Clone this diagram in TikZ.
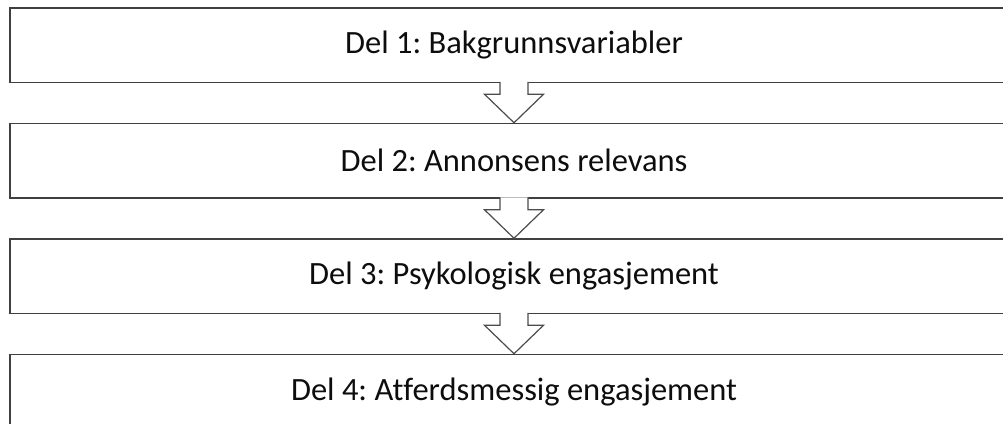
\documentclass[tikz,border=0pt]{standalone}
\usepackage{fontspec}
\setmainfont{Carlito}[Ligatures=CommonOff]
\usetikzlibrary{positioning,calc}

\tikzset{
  delbox/.style={draw=black!75, line width=1.5pt, minimum width=1008pt, minimum height=74.5pt,
    inner sep=0pt, font=\fontsize{32.5}{36}\selectfont\frenchspacing, text=black!95},
  flowarrow/.style={draw=black!70, line width=1.2pt, fill=white, line join=miter}
}

\begin{document}
\begin{tikzpicture}[x=1pt,y=-1pt]
  \useasboundingbox (0,0) rectangle (1003,423);

  \node[delbox] (del1) at (514,45.25) {Del 1: Bakgrunnsvariabler};
  \node[delbox, below=39.5pt of del1] (del2) {Del 2: Annonsens relevans};
  \node[delbox, below=39.5pt of del2] (del3) {Del 3: Psykologisk engasjement};
  \node[delbox, below=39.5pt of del3] (del4) {Del 4: Atferdsmessig engasjement};

  % hollow arrows between the parts
  \foreach \a/\b in {del1/del2, del2/del3, del3/del4}
    \draw[flowarrow] ($(\a.south)+(-14,-1.5)$) -- ++(0,12.5) -- ++(-15.5,0) -- (\b.north)
      -- ($(\a.south)+(29.5,11)$) -- ++(-15.5,0) -- ++(0,-12.5);
\end{tikzpicture}
\end{document}
